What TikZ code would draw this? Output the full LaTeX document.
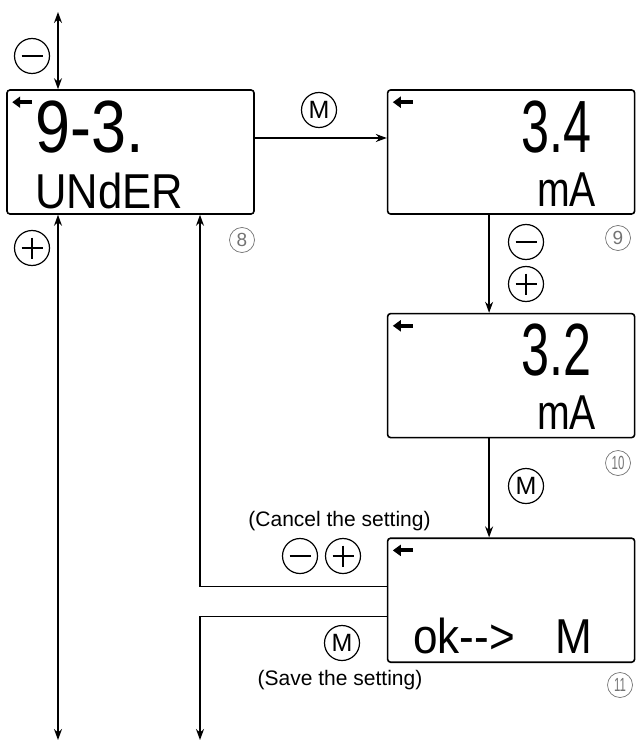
\documentclass[tikz,border=0pt]{standalone}
\usepackage{fontspec}
\usepackage{graphicx}
\setmainfont{Liberation Sans}
\newfontfamily\lcdfont{Liberation Sans}
\usetikzlibrary{arrows.meta, positioning}

\begin{document}
\begin{tikzpicture}[
    x=1pt, y=-1pt,
    node distance=98pt,
    lcd/.style={draw, rounded corners=3pt, minimum width=247pt, minimum height=124pt, line width=1.6pt},
    arr/.style={-{Stealth[length=11pt, width=8pt]}, line width=1.3pt},
    dblarr/.style={{Stealth[length=11pt, width=8pt]}-{Stealth[length=11pt, width=8pt]}, line width=1.3pt},
    lcdarr/.style={-{Triangle[length=8pt, width=11pt]}, line width=4pt},
    btn/.style={draw, circle, minimum size=35pt, inner sep=0pt, line width=1.2pt, font=\fontsize{25}{25}\selectfont},
    minusbtn/.style={btn, path picture={\draw[line width=1.2pt] ([xshift=7pt]path picture bounding box.west) -- ([xshift=-7pt]path picture bounding box.east);}},
    plusbtn/.style={btn, path picture={
        \draw[line width=1.2pt] ([xshift=7pt]path picture bounding box.west) -- ([xshift=-7pt]path picture bounding box.east);
        \draw[line width=1.2pt] ([yshift=-7pt]path picture bounding box.north) -- ([yshift=7pt]path picture bounding box.south);}},
    numlbl/.style={draw=black!55, text=black!55, circle, minimum size=25pt, inner sep=0pt, line width=0.7pt, font=\fontsize{19}{19}\selectfont},
    note/.style={font=\fontsize{21}{21}\selectfont},
    bigseg/.style={font=\lcdfont\fontsize{74}{74}\selectfont, inner sep=0pt},
    smallseg/.style={font=\lcdfont\fontsize{49}{49}\selectfont, inner sep=0pt},
]
\useasboundingbox (0,0) rectangle (635,743);

% display boxes
\node[lcd] (b8) at (130.5,152) {};
\node[lcd, right=132pt of b8] (b9) {};
\node[lcd, below=of b9] (b10) {};
\node[lcd, below=99pt of b10] (b11) {};

% display contents
\node[bigseg, anchor=base west] (d8a) at (35,153) {\scalebox{0.85}[1]{9-3.}};
\node[smallseg, anchor=base west] (d8b) at (35,208) {\scalebox{0.89}[1]{UNdER}};
\node[bigseg, anchor=base east] (d9a) at (592,153) {\scalebox{0.68}[1]{3.4}};
\node[smallseg, anchor=base east] (d9b) at (596,207) {\scalebox{0.8}[1]{mA}};
\node[bigseg, anchor=base east] (d10a) at (592,375) {\scalebox{0.68}[1]{3.2}};
\node[smallseg, anchor=base east] (d10b) at (596,429) {\scalebox{0.8}[1]{mA}};
\node[smallseg, anchor=base west] (d11) at (413,653) {\scalebox{0.9}[1]{ok-{}-{}>\hspace{45pt}M}};
\foreach \b in {b8,b9,b10,b11}
  \draw[lcdarr] ([shift={(26pt,-13pt)}]\b.north west) -- ++(-20,0);

% connectors
\coordinate (top) at (58,12);
\coordinate (bot) at (58,740);
\coordinate (savebot) at (200,740);
\draw[dblarr] (top) -- (top |- b8.north);
\draw[dblarr] (b8.south -| bot) -- (bot);
\draw[arr] ([yshift=14pt]b8.east) -- ([yshift=14pt]b9.west);
\draw[arr] ([xshift=-22pt]b9.south) -- ([xshift=-22pt]b10.north);
\draw[arr] ([xshift=-22pt]b10.south) -- ([xshift=-22pt]b11.north);
\draw[arr] ([yshift=14pt]b11.west) -| ([xshift=69.5pt]b8.south);
\draw[arr] ([yshift=-16pt]b11.west) -| (savebot);

% keys and labels
\node[minusbtn] (mn1) at (32,56) {};
\node[plusbtn] (pl1) at (32,248) {};
\node[btn] (m1) at (319,110) {M};
\node[minusbtn] (mn2) at (526,242) {};
\node[plusbtn] (pl2) at (526,284) {};
\node[btn] (m2) at (526,486) {M};
\node[minusbtn] (mn3) at (300,556) {};
\node[plusbtn] (pl3) at (343,556) {};
\node[btn] (m3) at (342,643) {M};
\node[note] (cancel) at (339.5,521) {(Cancel the setting)};
\node[note] (save) at (340,680) {(Save the setting)};
\node[numlbl] (n8) at (242,240) {8};
\node[numlbl] (n9) at (618,238) {9};
\node[numlbl] (n10) at (618,463) {\scalebox{0.6}[1]{10}};
\node[numlbl] (n11) at (620,685) {\scalebox{0.6}[1]{11}};
\end{tikzpicture}
\end{document}
